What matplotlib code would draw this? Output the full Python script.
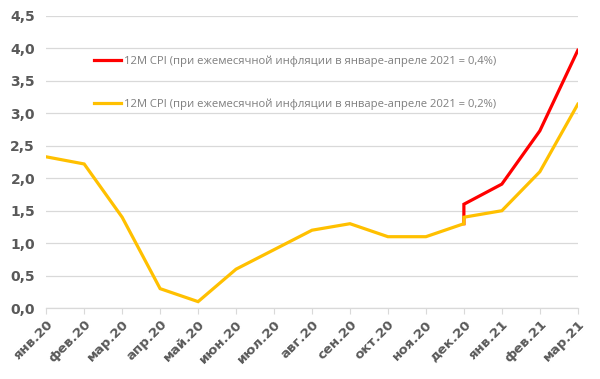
import matplotlib.pyplot as plt
from matplotlib.ticker import FuncFormatter

months = ['янв.20', 'фев.20', 'мар.20', 'апр.20', 'май.20', 'июн.20', 'июл.20',
          'авг.20', 'сен.20', 'окт.20', 'ноя.20', 'дек.20', 'янв.21', 'фев.21', 'мар.21']

# positions of the points; дек.20 carries two values (old index and new one)
x_base = [0, 1, 2, 3, 4, 5, 6, 7, 8, 9, 10, 11]
cpi_base = [2.33, 2.22, 1.4, 0.3, 0.1, 0.6, 0.9, 1.2, 1.3, 1.1, 1.1, 1.3]

x_tail = [11, 11, 12, 13, 14]
cpi_04 = [1.3, 1.6, 1.91, 2.73, 3.97]
cpi_02 = [1.3, 1.4, 1.5, 2.1, 3.14]

label_04 = '12M CPI (при ежемесячной инфляции в январе-апреле 2021 = 0,4%)'
label_02 = '12M CPI (при ежемесячной инфляции в январе-апреле 2021 = 0,2%)'

red = '#ff0000'
yellow = '#ffc000'
tick_color = '#595959'

fig = plt.figure(figsize=[6.0, 3.79], dpi=100)
ax = fig.add_axes([0.077, 0.187, 0.886, 0.771])

ax.plot(x_tail, cpi_04, '-', color=red, lw=2.3, label=label_04, solid_joinstyle='miter')
ax.plot(x_base + x_tail[1:], cpi_base + cpi_02[1:], '-', color=yellow, lw=2.3,
        label=label_02, solid_joinstyle='miter')

ax.set_xlim(0, 14)
ax.set_ylim(0, 4.5)
ax.set_yticks([i * 0.5 for i in range(10)])
ax.yaxis.set_major_formatter(FuncFormatter(lambda v, p: f'{v:.1f}'.replace('.', ',')))
ax.set_xticks(range(len(months)))
ax.set_xticklabels(months, rotation=45, ha='right', rotation_mode='anchor')

ax.grid(axis='y', color='#d9d9d9', lw=0.9)
ax.set_axisbelow(True)
for side in ['top', 'right', 'left']:
    ax.spines[side].set_visible(False)
ax.spines['bottom'].set_color('#d9d9d9')
ax.spines['bottom'].set_linewidth(0.9)
ax.tick_params(axis='y', length=0, pad=8, labelsize=10, labelcolor=tick_color)
ax.tick_params(axis='x', length=4, color='#d9d9d9', pad=3, labelsize=9.5, labelcolor=tick_color)
for t in ax.get_xticklabels() + ax.get_yticklabels():
    t.set_fontweight('bold')

leg = ax.legend(loc='upper left', bbox_to_anchor=(0.07, 0.9), frameon=False,
                handlelength=2.4, handletextpad=0.35, labelspacing=2.85,
                prop={'family': 'Open Sans', 'size': 8.1})
for t in leg.get_texts():
    t.set_color('#7f7f7f')

fig.savefig('out.png', dpi=100)
